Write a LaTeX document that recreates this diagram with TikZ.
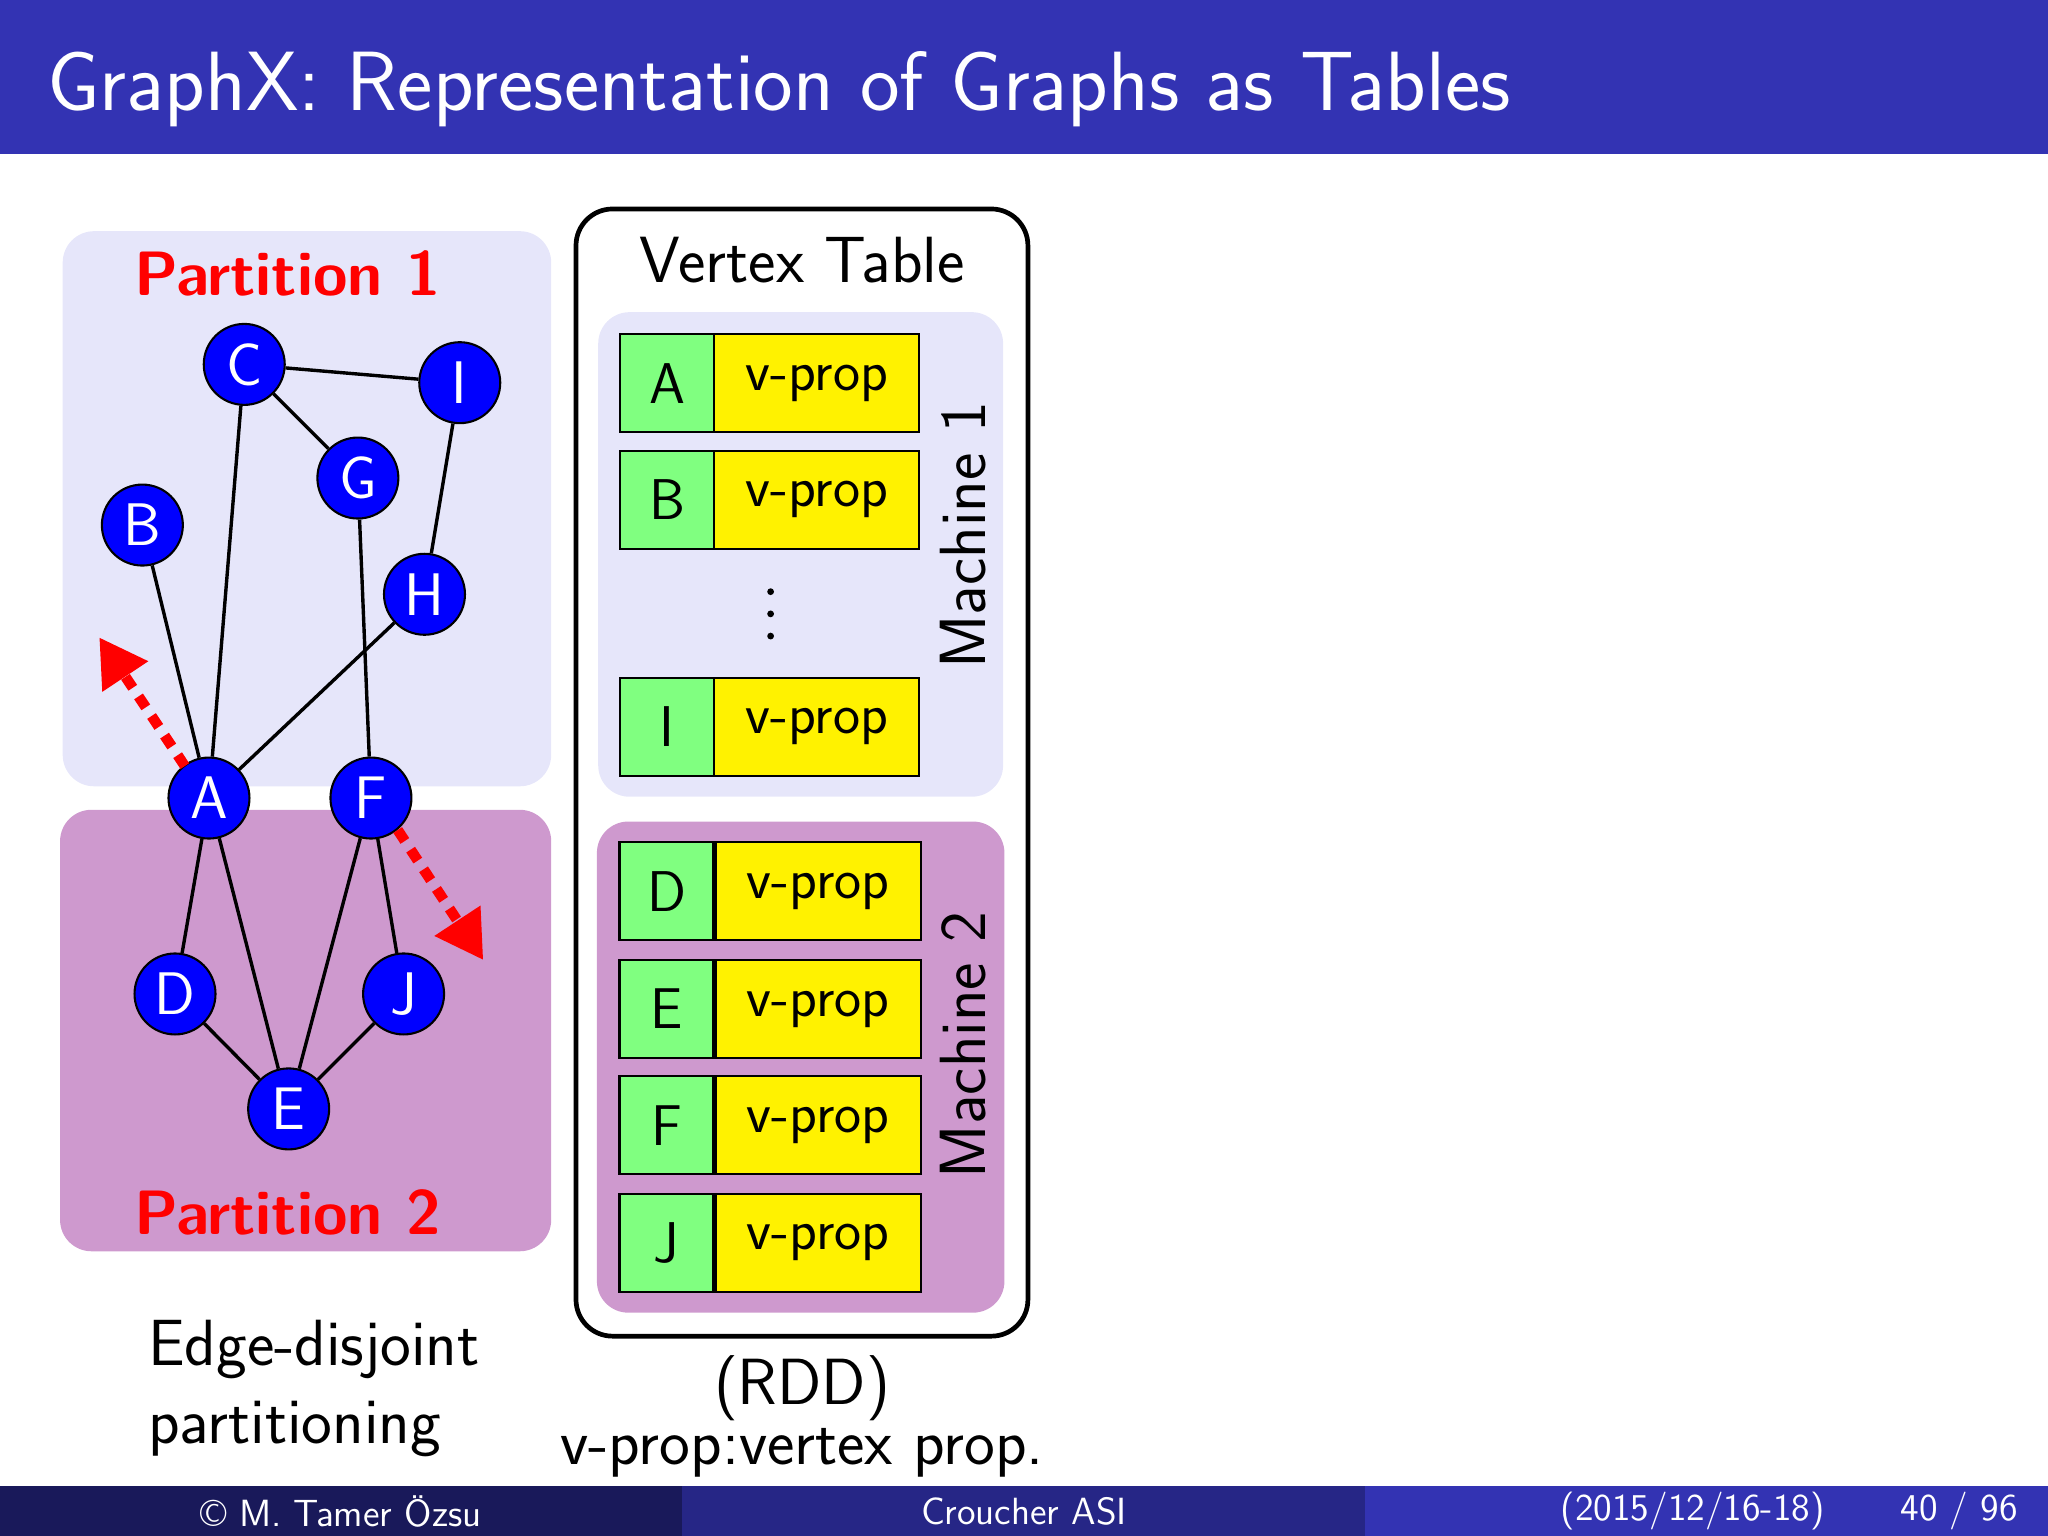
\documentclass[tikz,border=0pt]{standalone}
\usetikzlibrary{arrows.meta}
\definecolor{barblue}{RGB}{51,51,179}
\definecolor{bardark}{RGB}{25,25,90}
\definecolor{barmid}{RGB}{38,38,134}
\definecolor{lav}{RGB}{230,230,250}
\definecolor{pinkp}{RGB}{206,153,206}
\definecolor{cgreen}{RGB}{128,255,128}
\definecolor{cyellow}{RGB}{255,242,0}
\tikzset{
 vtx/.style={circle,fill=blue,draw=black,thick,minimum size=31pt,inner sep=0pt,text=white,font=\sffamily\fontsize{23}{23}\selectfont},
 gedge/.style={line width=1.3pt},
 gcell/.style={draw=black,thick,fill=cgreen,font=\sffamily\fontsize{22}{22}\selectfont,minimum width=36pt,minimum height=37.5pt,inner sep=0pt,anchor=west},
 ycell/.style={draw=black,thick,fill=cyellow,font=\sffamily\fontsize{22}{22}\selectfont,minimum width=78.5pt,minimum height=37.5pt,inner sep=0pt,anchor=west},
 redarr/.style={red,line width=4pt,dash pattern=on 5pt off 4pt,-{Triangle[length=18pt,width=20pt]}},
 plab/.style={red,font=\sffamily\bfseries\fontsize{24}{24}\selectfont},
}
\begin{document}
\begin{tikzpicture}[x=0.5pt,y=-0.5pt]
\useasboundingbox (0,0) rectangle (1568,1176);
\fill[barblue] (0,0) rectangle (1568,118);
\node[anchor=west,text=white,font=\sffamily\fontsize{32.2}{32.2}\selectfont] (title) at (29,68) {GraphX: Representation of Graphs as Tables};
% partitions
\fill[lav,rounded corners=12pt] (48,177) rectangle (422,602);
\fill[pinkp,rounded corners=12pt] (46,620) rectangle (422,958);
\node[plab] (p1) at (220,209) {Partition 1};
\node[plab] (p2) at (220,928) {Partition 2};
% graph
\node[vtx] (C) at (187,279) {C};
\node[vtx] (I) at (352,293) {I};
\node[vtx] (G) at (274,366) {G};
\node[vtx] (B) at (109,402) {B};
\node[vtx] (H) at (325,455) {H};
\node[vtx] (A) at (160,611) {A};
\node[vtx] (F) at (284,611) {F};
\node[vtx] (D) at (134,761) {D};
\node[vtx] (J) at (309,761) {J};
\node[vtx] (E) at (221,849) {E};
\foreach \a/\b in {C/I,C/G,C/A,I/H,G/F,H/A,B/A,A/D,A/E,F/E,F/J,D/E,J/E}
 \draw[gedge] (\a) -- (\b);
\coordinate (ta) at (76,488);
\coordinate (tf) at (370,735);
\draw[redarr] (A.north west) ++(4,-2) -- (ta);
\draw[redarr] (F.south east) ++(-2,2) -- (tf);
% vertex table
\draw[line width=1.8pt,rounded corners=14pt] (441,160) rectangle (787,1023);
\node[font=\sffamily\fontsize{25}{25}\selectfont] (vt) at (614,199) {Vertex Table};
\fill[lav,rounded corners=12pt] (458,239) rectangle (768,610);
\fill[pinkp,rounded corners=12pt] (457,629) rectangle (769,1005);
\foreach \n/\y in {A/293.5,B/382.5,I/556.5}{
 \node[gcell] (g\n) at (474,\y) {\n};
 \node[ycell] (y\n) at (546,\y) {v-prop};
}
\foreach \n/\y in {D/682.5,E/772.5,F/861.5,J/951.5}{
 \node[gcell] (g\n) at (473.5,\y) {\n};
 \node[ycell] (y\n) at (547,\y) {v-prop};
}
\foreach \y in {453,470,487} \fill (590,\y) circle (2.6);
\node[rotate=90,font=\sffamily\fontsize{25}{25}\selectfont] (m1) at (737,410) {Machine 1};
\node[rotate=90,font=\sffamily\fontsize{25}{25}\selectfont] (m2) at (737,800) {Machine 2};
% captions
\node[anchor=north west,align=left,font=\sffamily\fontsize{25}{30}\selectfont,inner sep=0pt] (ed) at (113,1010) {Edge-disjoint\\partitioning};
\node[font=\sffamily\fontsize{25}{25}\selectfont] (rdd) at (614,1063) {(RDD)};
\node[font=\sffamily\fontsize{25}{25}\selectfont] (vp) at (614,1112) {v-prop:vertex prop.};
% footer
\fill[bardark] (0,1138) rectangle (522,1176);
\fill[barmid] (522,1138) rectangle (1045,1176);
\fill[barblue] (1045,1138) rectangle (1568,1176);
\node[text=white,font=\sffamily\fontsize{14.5}{14.5}\selectfont] (f1) at (261,1157) {\textcopyright\ M. Tamer \"Ozsu};
\node[text=white,font=\sffamily\fontsize{14.5}{14.5}\selectfont] (f2) at (784,1157) {Croucher ASI};
\node[text=white,font=\sffamily\fontsize{14.5}{14.5}\selectfont] (f3) at (1296,1157) {(2015/12/16-18)};
\node[text=white,font=\sffamily\fontsize{14.5}{14.5}\selectfont] (f4) at (1500,1157) {40 / 96};
\end{tikzpicture}
\end{document}
